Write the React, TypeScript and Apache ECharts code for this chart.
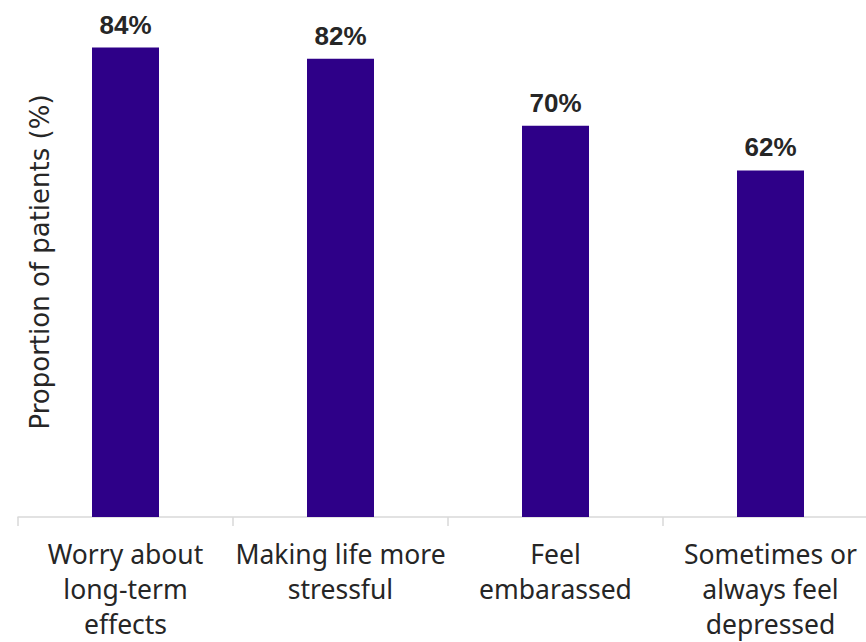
import React, { useEffect, useRef } from "react";
import * as echarts from "echarts";

const categories = [
  "Worry about\nlong-term\neffects",
  "Making life more\nstressful",
  "Feel\nembarassed",
  "Sometimes or\nalways feel\ndepressed",
];
const values = [84, 82, 70, 62];
const yTitle = "Proportion of patients (%)";

export default function App() {
  const ref = useRef<HTMLDivElement>(null);
  useEffect(() => {
    if (!ref.current) return;
    const chart = echarts.init(ref.current, null, { renderer: "svg" });
    chart.setOption({
      animation: false,
      backgroundColor: "#ffffff",
      grid: {
        left: 18,
        top: 14,
        right: -12,
        bottom: 125,
        containLabel: false,
        outerBoundsMode: "none",
      },
      xAxis: {
        type: "category",
        data: categories,
        axisLine: { show: true, lineStyle: { color: "#d9d9d9", width: 1.5 } },
        axisTick: { show: true, length: 9, lineStyle: { color: "#d9d9d9", width: 1.5 } },
        axisLabel: {
          interval: 0,
          margin: 19,
          fontFamily: "Noto Sans",
          fontSize: 26.5,
          lineHeight: 35,
          color: "#262626",
          hideOverlap: false,
        },
      },
      yAxis: {
        type: "value",
        min: 0,
        max: 90,
        show: false,
        splitLine: { show: false },
      },
      graphic: [
        {
          type: "text",
          x: 40,
          y: 262,
          rotation: Math.PI / 2,
          style: {
            text: yTitle,
            fontFamily: "DejaVu Sans",
            fontSize: 26,
            fill: "#262626",
            align: "center",
            verticalAlign: "middle",
          },
        },
      ],
      series: [
        {
          type: "bar",
          data: values,
          barWidth: 67,
          itemStyle: { color: "#2e0088" },
          label: {
            show: true,
            position: "top",
            distance: 10,
            formatter: "{c}%",
            fontFamily: "Liberation Sans",
            fontWeight: "bold",
            fontSize: 26,
            color: "#262626",
          },
        },
      ],
    });
    return () => chart.dispose();
  }, []);
  return (
    <div
      ref={ref}
      style={{ position: "fixed", left: 0, top: 0, width: 866, height: 642 }}
    />
  );
}
